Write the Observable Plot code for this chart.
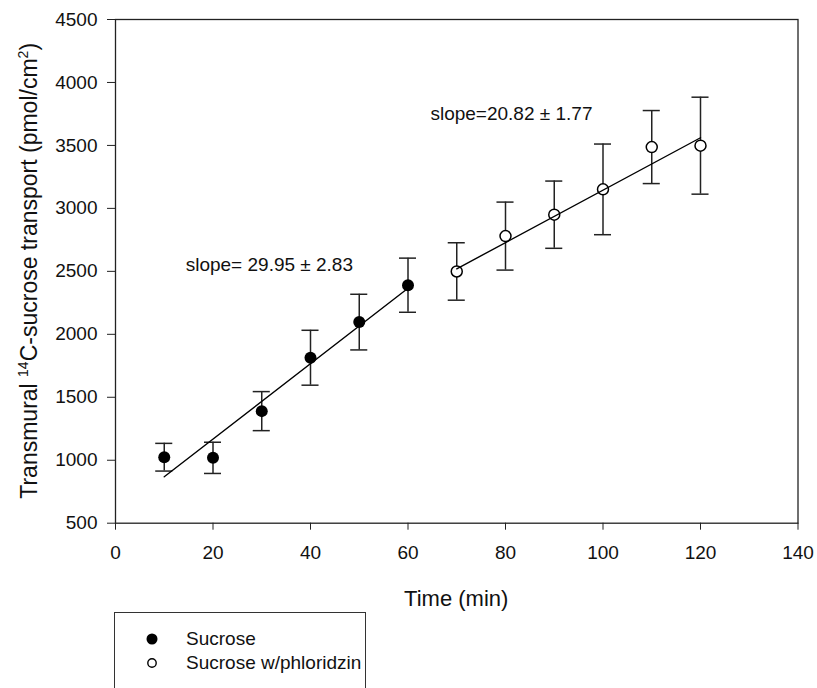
<!DOCTYPE html>
<html>
<head>
<meta charset="utf-8">
<script src="https://cdn.jsdelivr.net/npm/d3@7"></script>
<script src="https://cdn.jsdelivr.net/npm/@observablehq/plot@0.6"></script>
<style>
  html, body { margin: 0; padding: 0; background: #fff; }
  body { width: 817px; height: 688px; overflow: hidden; position: relative; font-family: "Liberation Sans", Arial, sans-serif; }
  #chart { position: absolute; left: 0; top: 0; }
  #legend { position: absolute; left: 114px; top: 612px; width: 252px; height: 100px; border: 1.5px solid #333; box-sizing: border-box; background: #fff; }
  .item { position: absolute; left: 0; font-size: 19px; color: #111; }
  .item svg { position: absolute; left: 28px; top: -8px; }
  .item span { position: absolute; left: 71px; top: -11px; white-space: nowrap; }
</style>
</head>
<body>
<div id="chart"></div>
<div id="legend">
  <div class="item" style="top:26px"><svg width="20" height="16"><circle cx="9" cy="8" r="5.5" fill="#000"/></svg><span>Sucrose</span></div>
  <div class="item" style="top:50px"><svg width="20" height="16"><circle cx="9" cy="8" r="4.2" fill="#fff" stroke="#000" stroke-width="1.4"/></svg><span>Sucrose w/phloridzin</span></div>
</div>
<script>
// Sucrose (filled)
const sucroseTime = [10, 20, 30, 40, 50, 60];
const sucroseMean = [1024, 1019, 1390, 1814, 2097, 2390];
const sucroseErr  = [110, 124, 155, 218, 221, 215];
// Sucrose w/phloridzin (open)
const phlorTime = [70, 80, 90, 100, 110, 120];
const phlorMean = [2499, 2780, 2950, 3151, 3487, 3498];
const phlorErr  = [228, 270, 267, 360, 290, 385];
// Regression line endpoints
const fit1Time = [10, 60];
const fit1Value = [869, 2366];
const fit2Time = [70, 120];
const fit2Value = [2520, 3561];
// Annotations
const annoText = ["slope= 29.95 \u00b1 2.83", "slope=20.82 \u00b1 1.77"];
const annoTime = [14.4, 64.6];
const annoValue = [2555, 3754];
// Ticks
const xTicks = [0, 20, 40, 60, 80, 100, 120, 140];
const yTicks = [500, 1000, 1500, 2000, 2500, 3000, 3500, 4000, 4500];

const sucrose = sucroseTime.map((t, i) => ({t, v: sucroseMean[i], e: sucroseErr[i]}));
const phlor = phlorTime.map((t, i) => ({t, v: phlorMean[i], e: phlorErr[i]}));
const all = sucrose.concat(phlor);
const fit1 = fit1Time.map((t, i) => ({t, v: fit1Value[i]}));
const fit2 = fit2Time.map((t, i) => ({t, v: fit2Value[i]}));
const anno = annoText.map((s, i) => ({s, t: annoTime[i], v: annoValue[i]}));
const cap = 1.75;

const W = 817, H = 620, mL = 115, mR = 19.5, mT = 19, mB = 97.3;

const plot = Plot.plot({
  width: W, height: H,
  marginLeft: mL, marginRight: mR, marginTop: mT, marginBottom: mB,
  style: {fontFamily: "'Liberation Sans', Arial, sans-serif", color: "#111", background: "transparent"},
  x: {domain: [0, 140]},
  y: {domain: [500, 4500]},
  marks: [
    Plot.axisX({ticks: xTicks, tickFormat: d => String(d), tickSize: 7, tickPadding: 15, fontSize: 19, label: null, stroke: "#222"}),
    Plot.axisY({ticks: yTicks, tickFormat: d => String(d), tickSize: 8, tickPadding: 10, fontSize: 19, label: null, stroke: "#222"}),
    Plot.frame({stroke: "#222", strokeWidth: 1.3}),
    Plot.ruleX(all, {x: "t", y1: d => d.v - d.e, y2: d => d.v + d.e, stroke: "#222", strokeWidth: 1.5}),
    Plot.ruleY(all, {y: d => d.v + d.e, x1: d => d.t - cap, x2: d => d.t + cap, stroke: "#222", strokeWidth: 1.5}),
    Plot.ruleY(all, {y: d => d.v - d.e, x1: d => d.t - cap, x2: d => d.t + cap, stroke: "#222", strokeWidth: 1.5}),
    Plot.dot(sucrose, {x: "t", y: "v", r: 6, fill: "#000", stroke: "none"}),
    Plot.dot(phlor, {x: "t", y: "v", r: 5.5, fill: "#fff", stroke: "#000", strokeWidth: 1.5}),
    Plot.line(fit1, {x: "t", y: "v", stroke: "#000", strokeWidth: 1.4}),
    Plot.line(fit2, {x: "t", y: "v", stroke: "#000", strokeWidth: 1.4}),
    Plot.text(anno, {x: "t", y: "v", text: "s", textAnchor: "start", lineAnchor: "middle", fontSize: 19, fill: "#111"})
  ]
});

const svg = d3.select(plot);
// X axis title
svg.append("text")
  .attr("x", mL + (W - mL - mR) / 2)
  .attr("y", 606)
  .attr("text-anchor", "middle")
  .attr("font-size", 22)
  .attr("fill", "#111")
  .text("Time (min)");
// Y axis title with superscripts
const yt = svg.append("text")
  .attr("transform", `translate(37,${mT + (H - mT - mB) / 2}) rotate(-90)`)
  .attr("text-anchor", "middle")
  .attr("font-size", 23)
  .attr("fill", "#111");
yt.append("tspan").text("Transmural ");
yt.append("tspan").attr("font-size", 14).attr("dy", -9).text("14");
yt.append("tspan").attr("dy", 9).text("C-sucrose transport (pmol/cm");
yt.append("tspan").attr("font-size", 14).attr("dy", -9).text("2");
yt.append("tspan").attr("dy", 9).text(")");

document.getElementById("chart").appendChild(plot);
</script>
</body>
</html>
